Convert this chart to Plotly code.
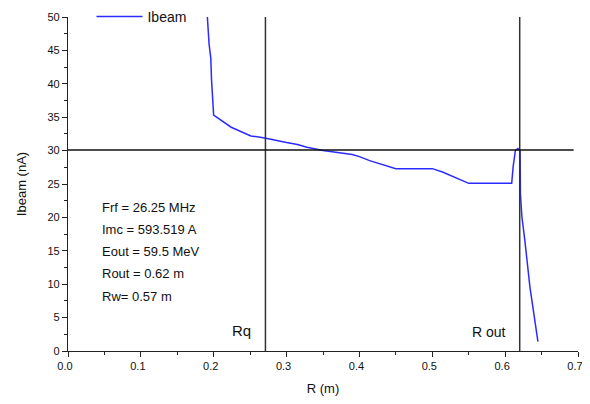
import plotly.graph_objects as go

# Curve data
r_m = [0.191, 0.1936, 0.196, 0.197, 0.1999, 0.224, 0.251, 0.27, 0.30, 0.315,
       0.328, 0.35, 0.39, 0.40, 0.414, 0.45, 0.50, 0.514, 0.55, 0.609,
       0.611, 0.614, 0.6175, 0.6205, 0.621, 0.623, 0.627, 0.634, 0.645]
ibeam_nA = [50.5, 46.0, 43.8, 40.6, 35.3, 33.5, 32.2, 31.9, 31.2, 30.9,
            30.5, 30.0, 29.4, 29.1, 28.5, 27.3, 27.3, 26.8, 25.1, 25.1,
            27.6, 30.0, 30.3, 30.0, 23.5, 20.1, 16.6, 9.6, 1.4]

# Reference lines
r_q = 0.271
r_out = 0.62
i_ref = 30.1

info_lines = ["Frf = 26.25 MHz", "Imc = 593.519 A", "Eout = 59.5 MeV",
              "Rout = 0.62 m", "Rw= 0.57 m"]
info_y = [21.55, 18.25, 14.95, 11.6, 8.2]

x_ticks = [0.0, 0.1, 0.2, 0.3, 0.4, 0.5, 0.6, 0.7]
y_ticks = [0, 5, 10, 15, 20, 25, 30, 35, 40, 45, 50]

FONT = "Liberation Sans, Arial, sans-serif"

fig = go.Figure()
fig.add_trace(go.Scatter(x=r_m, y=ibeam_nA, mode="lines", name="Ibeam",
                         line=dict(color="#2b2bff", width=1.5)))

# vertical and horizontal reference lines
fig.add_shape(type="line", xref="x", yref="y", x0=r_q, x1=r_q, y0=0, y1=50.5,
              line=dict(color="#333333", width=1.5))
fig.add_shape(type="line", xref="x", yref="y", x0=r_out, x1=r_out, y0=0, y1=50.5,
              line=dict(color="#333333", width=1.5))
fig.add_shape(type="line", xref="x", yref="y", x0=0, x1=0.694, y0=i_ref, y1=i_ref,
              line=dict(color="#111111", width=1.5))

for txt, yy in zip(info_lines, info_y):
    fig.add_annotation(x=0.0434, y=yy, xref="x", yref="y", text=txt,
                       showarrow=False, xanchor="left", yanchor="middle",
                       font=dict(family=FONT, size=13, color="#111111"))

fig.add_annotation(x=r_q - 0.017, y=3.1, xref="x", yref="y", text="Rq",
                   showarrow=False, xanchor="right", yanchor="middle",
                   font=dict(family=FONT, size=15, color="#111111"))
fig.add_annotation(x=r_out - 0.016, y=2.8, xref="x", yref="y", text="R out",
                   showarrow=False, xanchor="right", yanchor="middle",
                   font=dict(family=FONT, size=14, color="#111111"))

axis_common = dict(showgrid=False, zeroline=False, showline=True,
                   linecolor="#222222", linewidth=1.2, ticks="outside",
                   ticklen=5, tickcolor="#222222", tickwidth=1.2,
                   automargin=False, ticklabeloverflow="allow",
                   tickfont=dict(family=FONT, size=11, color="#111111"))

fig.update_xaxes(range=[0, 0.7], tickvals=x_ticks,
                 ticktext=[f"{v:.1f}" for v in x_ticks],
                 ticklabelshift=-3,
                 minor=dict(dtick=0.05, ticks="outside", ticklen=3,
                            tickcolor="#222222", tickwidth=1.2),
                 title=dict(text="R (m)", standoff=17,
                            font=dict(family=FONT, size=13, color="#111111")),
                 **axis_common)
fig.update_yaxes(range=[0, 50], tickvals=y_ticks,
                 minor=dict(dtick=2.5, ticks="outside", ticklen=3,
                            tickcolor="#222222", tickwidth=1.2),
                 title=dict(text="Ibeam (nA)", standoff=17,
                            font=dict(family=FONT, size=13, color="#111111")),
                 **axis_common)

fig.update_layout(
    width=582, height=388,
    margin=dict(l=60, r=12, t=9, b=45, autoexpand=False),
    plot_bgcolor="white", paper_bgcolor="white",
    showlegend=True,
    legend=dict(x=0.046, y=1.0, xanchor="left", yanchor="middle",
                bgcolor="rgba(0,0,0,0)", itemwidth=46,
                font=dict(family=FONT, size=14, color="#111111")),
)

fig.write_html("out.html")
